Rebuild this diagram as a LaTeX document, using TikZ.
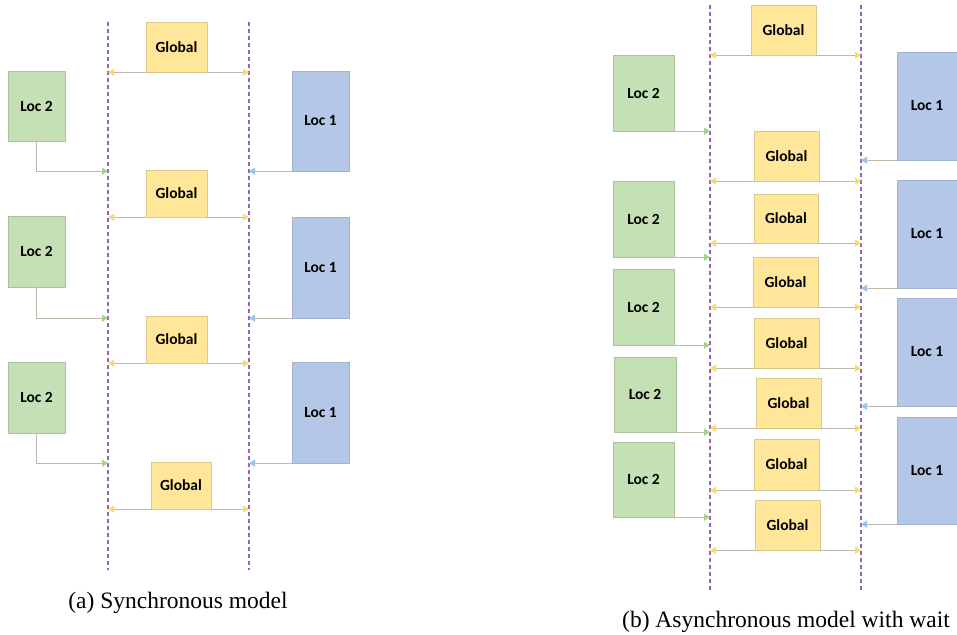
\documentclass[tikz,border=0pt]{standalone}
\usepackage{fontspec}
\setmainfont{Liberation Serif}
\newfontfamily\boxfont{Carlito}
\usetikzlibrary{arrows.meta}
\definecolor{globfill}{HTML}{FFE699}
\definecolor{globline}{HTML}{D8C98C}
\definecolor{globtip}{HTML}{FFD966}
\definecolor{twofill}{HTML}{C5E0B4}
\definecolor{twoline}{HTML}{A9C29C}
\definecolor{twotip}{HTML}{A9D18E}
\definecolor{onefill}{HTML}{B4C7E7}
\definecolor{oneline}{HTML}{A3B4D2}
\definecolor{onetip}{HTML}{9DC3E6}
\definecolor{arrline}{HTML}{BDB8AA}
\definecolor{sepline}{HTML}{8E66C0}
\tikzstyle{glob}=[rectangle, draw=globline, fill=globfill, text=black, inner sep=0pt,
        font=\boxfont\bfseries\fontsize{15.5}{18}\selectfont, minimum width=62, minimum height=50]
\tikzstyle{loctwo}=[rectangle, draw=twoline, fill=twofill, text=black, inner sep=0pt,
        font=\boxfont\bfseries\fontsize{15.5}{18}\selectfont, minimum width=57]
\tikzstyle{locone}=[rectangle, draw=oneline, fill=onefill, text=black, inner sep=0pt,
        font=\boxfont\bfseries\fontsize{15.5}{18}\selectfont, minimum width=57]
\tikzstyle{sepl}=[draw=sepline, line width=1.1pt, dash pattern=on 4pt off 3pt]
\tikzstyle{toglob}=[draw=arrline, line width=0.9pt, -{Triangle[length=6pt,width=7pt,color=globtip]}]
\tikzstyle{totwo}=[draw=arrline, line width=0.9pt, -{Triangle[length=6pt,width=7pt,color=twotip]}]
\tikzstyle{toone}=[draw=arrline, line width=0.9pt, -{Triangle[length=6pt,width=7pt,color=onetip]}]
\tikzstyle{capt}=[font=\fontsize{23.5}{28}\selectfont, inner sep=0pt]

\begin{document}
\begin{tikzpicture}[x=1pt,y=-1pt]
\useasboundingbox (0,0) rectangle (957,634);
% (a) synchronous
\coordinate (sa1) at (108,22);
\coordinate (sa2) at (108,570);
\coordinate (sb1) at (249,22);
\coordinate (sb2) at (249,570);
\draw[sepl] (sa1) -- (sa2);
\draw[sepl] (sb1) -- (sb2);
\node[glob, minimum width=61] (g1) at (176.5,47) {Global};
\node[glob, minimum width=61, minimum height=47] (g2) at (176.5,193.5) {Global};
\node[glob, minimum width=61, minimum height=47] (g3) at (176.5,339.5) {Global};
\node[glob, minimum width=60, minimum height=47] (g4) at (181,485.5) {Global};
\node[loctwo, minimum height=70] (l2a) at (36.5,106) {Loc 2};
\node[loctwo, minimum height=71] (l2b) at (36.5,251.5) {Loc 2};
\node[loctwo, minimum height=71] (l2c) at (36.5,397.5) {Loc 2};
\node[locone, minimum height=100] (l1a) at (320.5,121) {Loc 1};
\node[locone, minimum height=101] (l1b) at (320.5,267.5) {Loc 1};
\node[locone, minimum height=101] (l1c) at (320.5,412.5) {Loc 1};
\draw[toglob] (g1.south west) -- (g1.south west -| sa1);
\draw[toglob] (g1.south east) -- (g1.south east -| sb1);
\draw[toglob] (g2.south west) -- (g2.south west -| sa1);
\draw[toglob] (g2.south east) -- (g2.south east -| sb1);
\draw[toglob] (g3.south west) -- (g3.south west -| sa1);
\draw[toglob] (g3.south east) -- (g3.south east -| sb1);
\draw[toglob] (g4.south west) -- (g4.south west -| sa1);
\draw[toglob] (g4.south east) -- (g4.south east -| sb1);
\draw[totwo] (l2a.south) |- (l1a.south west -| sa1);
\draw[totwo] (l2b.south) |- (l1b.south west -| sa1);
\draw[totwo] (l2c.south) |- (l1c.south west -| sa1);
\draw[toone] (l1a.south west) -- (l1a.south west -| sb1);
\draw[toone] (l1b.south west) -- (l1b.south west -| sb1);
\draw[toone] (l1c.south west) -- (l1c.south west -| sb1);
\node[capt] (capa) at (178,603) {(a) Synchronous model};
% (b) asynchronous with wait
\coordinate (ra1) at (710,5);
\coordinate (ra2) at (710,590);
\coordinate (rb1) at (861,5);
\coordinate (rb2) at (861,590);
\draw[sepl] (ra1) -- (ra2);
\draw[sepl] (rb1) -- (rb2);
\node[glob, minimum width=65] (h1) at (783.5,30) {Global};
\node[glob, minimum width=65] (h2) at (786.5,156) {Global};
\node[glob, minimum width=64, minimum height=49] (h3) at (786,218.5) {Global};
\node[glob, minimum width=65] (h4) at (785.5,282) {Global};
\node[glob, minimum width=65] (h5) at (786.5,343) {Global};
\node[glob, minimum width=65] (h6) at (788.5,403) {Global};
\node[glob, minimum width=65, minimum height=51] (h7) at (786.5,464.5) {Global};
\node[glob, minimum width=65] (h8) at (787.5,525) {Global};
\node[loctwo, minimum width=61, minimum height=76] (r2a) at (643.5,93) {Loc 2};
\node[loctwo, minimum width=61, minimum height=76] (r2b) at (643.5,219) {Loc 2};
\node[loctwo, minimum width=61, minimum height=76] (r2c) at (643.5,307) {Loc 2};
\node[loctwo, minimum width=62, minimum height=75] (r2d) at (645,394.5) {Loc 2};
\node[loctwo, minimum width=61, minimum height=75] (r2e) at (643.5,479.5) {Loc 2};
\node[locone, minimum width=60, minimum height=108] (r1a) at (927,106) {Loc 1};
\node[locone, minimum width=60, minimum height=108] (r1b) at (927,234) {Loc 1};
\node[locone, minimum width=60, minimum height=108] (r1c) at (927,352) {Loc 1};
\node[locone, minimum width=60, minimum height=107] (r1d) at (927,470.5) {Loc 1};
\draw[toglob] (h1.south west) -- (h1.south west -| ra1);
\draw[toglob] (h1.south east) -- (h1.south east -| rb1);
\draw[toglob] (h2.south west) -- (h2.south west -| ra1);
\draw[toglob] (h2.south east) -- (h2.south east -| rb1);
\draw[toglob] (h3.south west) -- (h3.south west -| ra1);
\draw[toglob] (h3.south east) -- (h3.south east -| rb1);
\draw[toglob] (h4.south west) -- (h4.south west -| ra1);
\draw[toglob] (h4.south east) -- (h4.south east -| rb1);
\draw[toglob] (h5.south west) -- (h5.south west -| ra1);
\draw[toglob] (h5.south east) -- (h5.south east -| rb1);
\draw[toglob] (h6.south west) -- (h6.south west -| ra1);
\draw[toglob] (h6.south east) -- (h6.south east -| rb1);
\draw[toglob] (h7.south west) -- (h7.south west -| ra1);
\draw[toglob] (h7.south east) -- (h7.south east -| rb1);
\draw[toglob] (h8.south west) -- (h8.south west -| ra1);
\draw[toglob] (h8.south east) -- (h8.south east -| rb1);
\draw[totwo] (r2a.south east) -- (r2a.south east -| ra1);
\draw[totwo] (r2b.south east) -- (r2b.south east -| ra1);
\draw[totwo] (r2c.south east) -- (r2c.south east -| ra1);
\draw[totwo] (r2d.south east) -- (r2d.south east -| ra1);
\draw[totwo] (r2e.south east) -- (r2e.south east -| ra1);
\draw[toone] (r1a.south west) -- (r1a.south west -| rb1);
\draw[toone] (r1b.south west) -- (r1b.south west -| rb1);
\draw[toone] (r1c.south west) -- (r1c.south west -| rb1);
\draw[toone] (r1d.south west) -- (r1d.south west -| rb1);
\node[capt] (capb) at (786,622) {(b) Asynchronous model with wait};
\end{tikzpicture}
\end{document}
